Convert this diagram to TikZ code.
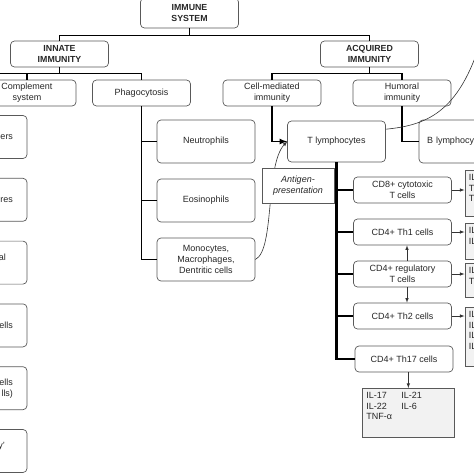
\documentclass[tikz,border=0pt]{standalone}
\usepackage{fontspec}
\setmainfont{Liberation Sans}
\begin{document}
\begin{tikzpicture}[
  x=1pt, y=1pt,
  >=latex,
  block/.style={rectangle, rounded corners=4pt, draw=black!65, line width=0.7pt, minimum width=98pt, minimum height=26pt, align=center, text=black!85, font=\fontsize{9}{11}\selectfont},
  tallblock/.style={block, minimum height=43pt},
  head/.style={block, font=\fontsize{8.8}{11}\selectfont\bfseries},
  cutblock/.style={tallblock, text width=70pt, align=right, inner xsep=14pt},
  cyto/.style={rectangle, draw=black!65, line width=0.7pt, fill=black!5, anchor=north west, text width=50pt, align=left, inner sep=4pt, text=black!85, font=\fontsize{9}{10.5}\selectfont},
  tree/.style={line width=1.6pt},
  trunk/.style={line width=2.2pt},
  link/.style={draw=black!80, line width=0.6pt},
  node distance=42pt
]
\useasboundingbox (0,0) rectangle (474,-474);

\node[head, minimum height=30pt] (immune) at (189.5,-13) {IMMUNE\\SYSTEM};
\node[head] (innate) at (59.5,-54) {INNATE\\IMMUNITY};
\node[head] (acquired) at (369.5,-54) {ACQUIRED\\IMMUNITY};

\node[block] (complement) at (27,-93) {Complement\\system};
\node[block] (phago) at (141.5,-93) {Phagocytosis};
\node[block] (cellmed) at (272,-93) {Cell-mediated\\immunity};
\node[block] (humoral) at (402,-93) {Humoral\\immunity};

\node[cutblock] (barrier1) at (-22,-137) {ers};
\node[cutblock, below of=barrier1, node distance=62.8pt] (barrier2) {res};
\node[cutblock, below of=barrier2, node distance=62.8pt] (barrier3) {al\rule{7pt}{0pt}\\\mbox{}};
\node[cutblock, below of=barrier3, node distance=62.8pt] (barrier4) {ells};
\node[cutblock, below of=barrier4, node distance=62.8pt] (barrier5) {ells\\lls)};
\node[cutblock, below of=barrier5, node distance=62.8pt] (barrier6) {y'\rule{8pt}{0pt}\\\mbox{}};

\node[tallblock] (neutro) at (206,-141.5) {Neutrophils};
\node[tallblock, below of=neutro, node distance=59pt] (eosino) {Eosinophils};
\node[tallblock, below of=eosino, node distance=59pt] (mono) {Monocytes,\\Macrophages,\\Dentritic cells};

\node[tallblock, minimum height=41pt] (tlym) at (336.5,-141.5) {T lymphocytes};
\node[tallblock, text width=82pt, align=left] (blym) at (468,-141.5) {B lymphocytes};

\node[block] (cd8) at (402.5,-190) {CD8+ cytotoxic\\T cells};
\node[block, below of=cd8] (th1) {CD4+ Th1 cells};
\node[block, below of=th1] (treg) {CD4+ regulatory\\T cells};
\node[block, below of=treg] (th2) {CD4+ Th2 cells};
\node[block, below of=th2, node distance=43pt, xshift=1.5pt] (th17) {CD4+ Th17 cells};

\node[cyto, text depth=31.5pt] (cd8c) at (464.5,-170) {IL\\T\\T};
\node[cyto, text depth=21.5pt] (th1c) at (464.5,-223) {IL\\IL};
\node[cyto, text depth=19.5pt] (tregc) at (464.5,-263) {IL\\T};
\node[cyto, text depth=44.5pt] (th2c) at (464.5,-307) {IL\\IL\\IL\\IL};
\node[cyto, text width=84pt, text depth=34.5pt] (th17c) at (362,-388) {\makebox[35pt][l]{IL-17}IL-21\\\makebox[35pt][l]{IL-22}IL-6\\TNF-α};

\coordinate (farleft) at (-60,0);
\coordinate (offright) at (484,-30);

\draw[tree] (immune.south) -- ++(0,-7pt) coordinate (split0);
\draw[tree] (innate.north) |- (split0) -| (acquired.north);
\draw[tree] (innate.south) -- ++(0,-6pt) coordinate (split1);
\draw[tree] (phago.north) |- (split1) -- (split1 -| farleft);
\draw[tree] (complement.north) -- (complement.north |- split1);
\draw[tree] (acquired.south) -- ++(0,-6pt) coordinate (split2);
\draw[tree] (cellmed.north) |- (split2) -| (humoral.north);

\draw[tree] (phago.south) |- (mono.west);
\draw[tree] (phago.south |- neutro) -- (neutro.west);
\draw[tree] (phago.south |- eosino) -- (eosino.west);

\draw[tree,->] (cellmed.south) |- (tlym.west);
\draw[tree] (humoral.south) |- (blym.west);

\draw[trunk] (tlym.south) |- (th17.west);
\draw[tree] (tlym.south |- cd8) -- (cd8.west);
\draw[tree] (tlym.south |- th1) -- (th1.west);
\draw[tree] (tlym.south |- treg) -- (treg.west);
\draw[tree] (tlym.south |- th2) -- (th2.west);

\draw[->,link] (cd8) -- (cd8 -| cd8c.west);
\draw[->,link] (th1) -- (th1 -| th1c.west);
\draw[->,link] (treg) -- (treg -| tregc.west);
\draw[->,link] (th2) -- (th2 -| th2c.west);
\draw[->,link] ([xshift=4.5pt]treg.north) -- ([xshift=4.5pt]th1.south);
\draw[->,link] ([xshift=4.5pt]treg.south) -- ([xshift=4.5pt]th2.north);
\draw[->,link] (th17c.north |- th17.south) -- (th17c.north);

\draw[->,link] (mono.east) .. controls (275,-250) and (265,-165) .. (tlym.west);
\draw[link] (tlym.14) .. controls (430,-125) and (462,-110) .. (offright);

\node[rectangle, draw=black!65, line width=0.7pt, fill=white, minimum width=72pt, minimum height=35pt, align=center, text=black!85, font=\fontsize{9}{11}\selectfont\itshape] (antigen) at (298,-185.5) {Antigen-\\presentation};
\end{tikzpicture}
\end{document}
